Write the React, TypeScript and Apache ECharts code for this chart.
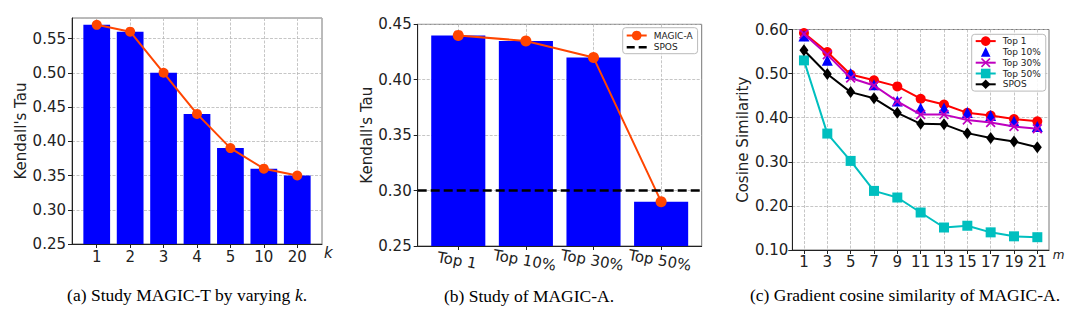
import React, { useEffect, useRef } from 'react';
import * as echarts from 'echarts';

// ---------- data ----------
const K_LABELS = ['1', '2', '3', '4', '5', '10', '20'];
const TAU_T = [0.57, 0.56, 0.5, 0.44, 0.39, 0.36, 0.35];

const TOPK_LABELS = ['Top 1', 'Top 10%', 'Top 30%', 'Top 50%'];
const TAU_A = [0.44, 0.435, 0.42, 0.29];
const SPOS_TAU = 0.301;

const M_VALUES = [1, 3, 5, 7, 9, 11, 13, 15, 17, 19, 21];
const COS_TOP1 = [0.592, 0.549, 0.498, 0.485, 0.471, 0.443, 0.43, 0.411, 0.405, 0.397, 0.392];
const COS_TOP10 = [0.585, 0.53, 0.5, 0.475, 0.438, 0.422, 0.422, 0.412, 0.405, 0.392, 0.38];
const COS_TOP30 = [0.59, 0.543, 0.49, 0.473, 0.437, 0.407, 0.407, 0.395, 0.389, 0.38, 0.375];
const COS_TOP50 = [0.53, 0.364, 0.302, 0.234, 0.219, 0.185, 0.151, 0.155, 0.14, 0.131, 0.129];
const COS_SPOS = [0.553, 0.499, 0.458, 0.444, 0.411, 0.386, 0.385, 0.365, 0.354, 0.346, 0.333];

const FONT = 'DejaVu Sans';
const SERIF = 'Liberation Serif';
const INK = '#222';
const X_MARK = 'path://M0,1.2L1.2,0L5,3.8L8.8,0L10,1.2L6.2,5L10,8.8L8.8,10L5,6.2L1.2,10L0,8.8L3.8,5Z';
const DASH_ICON = 'path://M0,0h8v2.6h-8zM12,0h8v2.6h-8z';

const GRIDS = [
  { left: 72, top: 18, width: 250, height: 226 },
  { left: 417.7, top: 24.3, width: 284, height: 221.7 },
  { left: 792.3, top: 29.5, width: 256.7, height: 220.5 },
];
const XA = { min: -0.74, max: 6.74 };
const XB = { min: -0.6, max: 3.6 };

const splitLine = { show: true, lineStyle: { color: '#b8b8b8', width: 0.8, type: [3, 1.5] } };

function xAxisBase(gridIndex: number) {
  return {
    gridIndex,
    type: 'value' as const,
    axisLine: { show: true, onZero: false, lineStyle: { color: INK, width: 1 } },
    axisTick: { show: true, length: 4, lineStyle: { color: INK } },
    splitLine,
  };
}
function yAxisBase(gridIndex: number) {
  return {
    gridIndex,
    type: 'value' as const,
    axisLine: { show: true, onZero: false, lineStyle: { color: INK, width: 1 } },
    axisTick: { show: true, length: 4, lineStyle: { color: INK } },
    splitLine,
    nameLocation: 'middle' as const,
    nameGap: 42,
    nameTextStyle: { fontSize: 15, color: INK, fontFamily: FONT },
  };
}

export default function App() {
  const ref = useRef<HTMLDivElement>(null);
  useEffect(() => {
    document.body.style.margin = '0';
    if (!ref.current) return;
    const chart = echarts.init(ref.current, undefined, { renderer: 'svg' });
    const idxA = K_LABELS.map((_, i) => i);
    const idxB = TOPK_LABELS.map((_, i) => i);
    const bwA = (GRIDS[0].width / (XA.max - XA.min)) * 0.8;
    const bwB = (GRIDS[1].width / (XB.max - XB.min)) * 0.8;
    const capStyle = { fontSize: 17.5, fontFamily: SERIF, fill: '#000', align: 'center', verticalAlign: 'middle' };

    const option: any = {
      animation: false,
      textStyle: { fontFamily: FONT },
      grid: GRIDS.map((g) => ({
        ...g,
        show: true,
        borderColor: '#777',
        borderWidth: 1,
        backgroundColor: 'transparent',
        containLabel: false,
        outerBoundsMode: 'none',
      })),
      xAxis: [
        {
          ...xAxisBase(0),
          min: XA.min,
          max: XA.max,
          axisTick: { show: true, length: 4, lineStyle: { color: INK }, customValues: idxA },
          axisLabel: {
            customValues: idxA,
            formatter: (v: number) => K_LABELS[Math.round(v)] ?? '',
            fontSize: 15,
            color: INK,
            margin: 5,
            fontFamily: FONT,
          },
          name: 'k',
          nameLocation: 'end',
          nameGap: 2,
          nameTextStyle: { fontSize: 15, fontStyle: 'italic', color: INK, verticalAlign: 'top', padding: [1, 0, 0, 0], fontFamily: FONT },
        },
        {
          ...xAxisBase(1),
          min: XB.min,
          max: XB.max,
          axisTick: { show: true, length: 4, lineStyle: { color: INK }, customValues: idxB },
          axisLabel: {
            customValues: idxB,
            formatter: (v: number) => TOPK_LABELS[Math.round(v)] ?? '',
            fontSize: 15,
            color: INK,
            margin: 7,
            rotate: -10,
            align: 'center',
            verticalAlign: 'top',
            fontFamily: FONT,
          },
        },
        {
          ...xAxisBase(2),
          min: 0,
          max: 22,
          axisTick: { show: true, length: 4, lineStyle: { color: INK }, customValues: M_VALUES },
          axisLabel: {
            customValues: M_VALUES,
            formatter: (v: number) => String(v),
            fontSize: 15,
            color: INK,
            margin: 4,
            fontFamily: FONT,
          },
          name: 'm',
          nameLocation: 'end',
          nameGap: 3,
          nameTextStyle: { fontSize: 12, fontStyle: 'italic', color: INK, verticalAlign: 'top', padding: [-1, 0, 0, 0], fontFamily: FONT },
        },
      ],
      yAxis: [
        {
          ...yAxisBase(0),
          min: 0.25,
          max: 0.58,
          interval: 0.05,
          name: "Kendall's Tau",
          axisLabel: { formatter: (v: number) => v.toFixed(2), fontSize: 15, color: INK, margin: 6, showMaxLabel: false, fontFamily: FONT },
        },
        {
          ...yAxisBase(1),
          min: 0.25,
          max: 0.45,
          interval: 0.05,
          name: "Kendall's Tau",
          nameGap: 41,
          axisLabel: { formatter: (v: number) => v.toFixed(2), fontSize: 15, color: INK, margin: 6, fontFamily: FONT },
        },
        {
          ...yAxisBase(2),
          min: 0.1,
          max: 0.6,
          interval: 0.1,
          name: 'Cosine Similarity',
          axisLabel: { formatter: (v: number) => v.toFixed(2), fontSize: 15, color: INK, margin: 4, fontFamily: FONT },
        },
      ],
      legend: [
        {
          data: [{ name: 'MAGIC-A' }, { name: 'SPOS', icon: DASH_ICON }],
          orient: 'vertical',
          left: 622.7,
          top: 27.7,
          itemWidth: 20,
          itemHeight: 12,
          itemGap: 2.4,
          padding: [3, 5, 2, 3],
          borderColor: '#bbb',
          borderWidth: 1,
          borderRadius: 3,
          backgroundColor: 'rgba(255,255,255,0.85)',
          selectedMode: false,
          textStyle: { fontSize: 9, color: INK, fontFamily: FONT, padding: [0, 0, 0, 2] },
        },
        {
          data: ['Top 1', 'Top 10%', 'Top 30%', 'Top 50%', 'SPOS (c)'],
          formatter: (n: string) => (n === 'SPOS (c)' ? 'SPOS' : n),
          orient: 'vertical',
          left: 971.7,
          top: 34.3,
          itemWidth: 20,
          itemHeight: 12,
          itemGap: 1.2,
          padding: [2, 5, 2, 3],
          borderColor: '#bbb',
          borderWidth: 1,
          borderRadius: 3,
          backgroundColor: 'rgba(255,255,255,0.85)',
          selectedMode: false,
          textStyle: { fontSize: 9, color: INK, fontFamily: FONT, padding: [0, 0, 0, 2] },
        },
      ],
      series: [
        // panel (a)
        {
          type: 'bar',
          xAxisIndex: 0,
          yAxisIndex: 0,
          data: TAU_T.map((v, i) => [i, v]),
          barWidth: bwA,
          itemStyle: { color: '#0000ff' },
          z: 2,
        },
        {
          type: 'line',
          xAxisIndex: 0,
          yAxisIndex: 0,
          data: TAU_T.map((v, i) => [i, v]),
          color: '#ff4500',
          lineStyle: { color: '#ff4500', width: 2 },
          symbol: 'circle',
          symbolSize: 10,
          itemStyle: { color: '#ff4500' },
          z: 4,
        },
        // panel (b)
        {
          type: 'bar',
          xAxisIndex: 1,
          yAxisIndex: 1,
          data: TAU_A.map((v, i) => [i, v]),
          barWidth: bwB,
          itemStyle: { color: '#0000ff' },
          z: 2,
        },
        {
          name: 'SPOS',
          type: 'line',
          xAxisIndex: 1,
          yAxisIndex: 1,
          data: [],
          symbol: 'none',
          color: '#000',
          lineStyle: { color: '#000', width: 2.5, type: [9, 4] },
          markLine: {
            silent: true,
            symbol: ['none', 'none'],
            label: { show: false },
            lineStyle: { color: '#000', width: 2.5, type: [9, 4] },
            data: [{ yAxis: SPOS_TAU }],
          },
          z: 3,
        },
        {
          name: 'MAGIC-A',
          type: 'line',
          xAxisIndex: 1,
          yAxisIndex: 1,
          data: TAU_A.map((v, i) => [i, v]),
          color: '#ff4500',
          lineStyle: { color: '#ff4500', width: 2 },
          symbol: 'circle',
          symbolSize: 11,
          itemStyle: { color: '#ff4500' },
          z: 4,
        },
        // panel (c)
        {
          name: 'Top 1',
          type: 'line',
          xAxisIndex: 2,
          yAxisIndex: 2,
          data: COS_TOP1.map((v, i) => [M_VALUES[i], v]),
          color: '#ff0000',
          lineStyle: { color: '#ff0000', width: 2 },
          symbol: 'circle',
          symbolSize: 10,
          itemStyle: { color: '#ff0000' },
          z: 3,
        },
        {
          name: 'Top 10%',
          type: 'line',
          xAxisIndex: 2,
          yAxisIndex: 2,
          data: COS_TOP10.map((v, i) => [M_VALUES[i], v]),
          color: '#0000ff',
          lineStyle: { color: '#0000ff', width: 0, opacity: 0 },
          symbol: 'triangle',
          symbolSize: 11,
          itemStyle: { color: '#0000ff' },
          z: 4,
        },
        {
          name: 'Top 30%',
          type: 'line',
          xAxisIndex: 2,
          yAxisIndex: 2,
          data: COS_TOP30.map((v, i) => [M_VALUES[i], v]),
          color: '#bf00bf',
          lineStyle: { color: '#bf00bf', width: 2 },
          symbol: X_MARK,
          symbolSize: 10,
          itemStyle: { color: '#bf00bf' },
          z: 5,
        },
        {
          name: 'Top 50%',
          type: 'line',
          xAxisIndex: 2,
          yAxisIndex: 2,
          data: COS_TOP50.map((v, i) => [M_VALUES[i], v]),
          color: '#00bfbf',
          lineStyle: { color: '#00bfbf', width: 2 },
          symbol: 'rect',
          symbolSize: 10,
          itemStyle: { color: '#00bfbf' },
          z: 6,
        },
        {
          name: 'SPOS (c)',
          type: 'line',
          xAxisIndex: 2,
          yAxisIndex: 2,
          data: COS_SPOS.map((v, i) => [M_VALUES[i], v]),
          color: '#000',
          lineStyle: { color: '#000', width: 2 },
          symbol: 'diamond',
          symbolSize: [9, 12],
          itemStyle: { color: '#000' },
          z: 7,
        },
      ],
      graphic: [
        {
          type: 'text',
          x: 187,
          y: 295,
          style: {
            ...capStyle,
            text: '(a) Study MAGIC-T by varying {i|k}.',
            rich: { i: { fontStyle: 'italic', fontSize: 17.5, fontFamily: SERIF, fill: '#000' } },
          },
        },
        {
          type: 'text',
          x: 529,
          y: 296,
          style: { ...capStyle, text: '(b) Study of MAGIC-A.' },
        },
        {
          type: 'text',
          x: 905,
          y: 295,
          style: { ...capStyle, text: '(c) Gradient cosine similarity of MAGIC-A.' },
        },
      ],
    };
    chart.setOption(option);
    return () => chart.dispose();
  }, []);
  return <div ref={ref} style={{ width: 1080, height: 321 }} />;
}
